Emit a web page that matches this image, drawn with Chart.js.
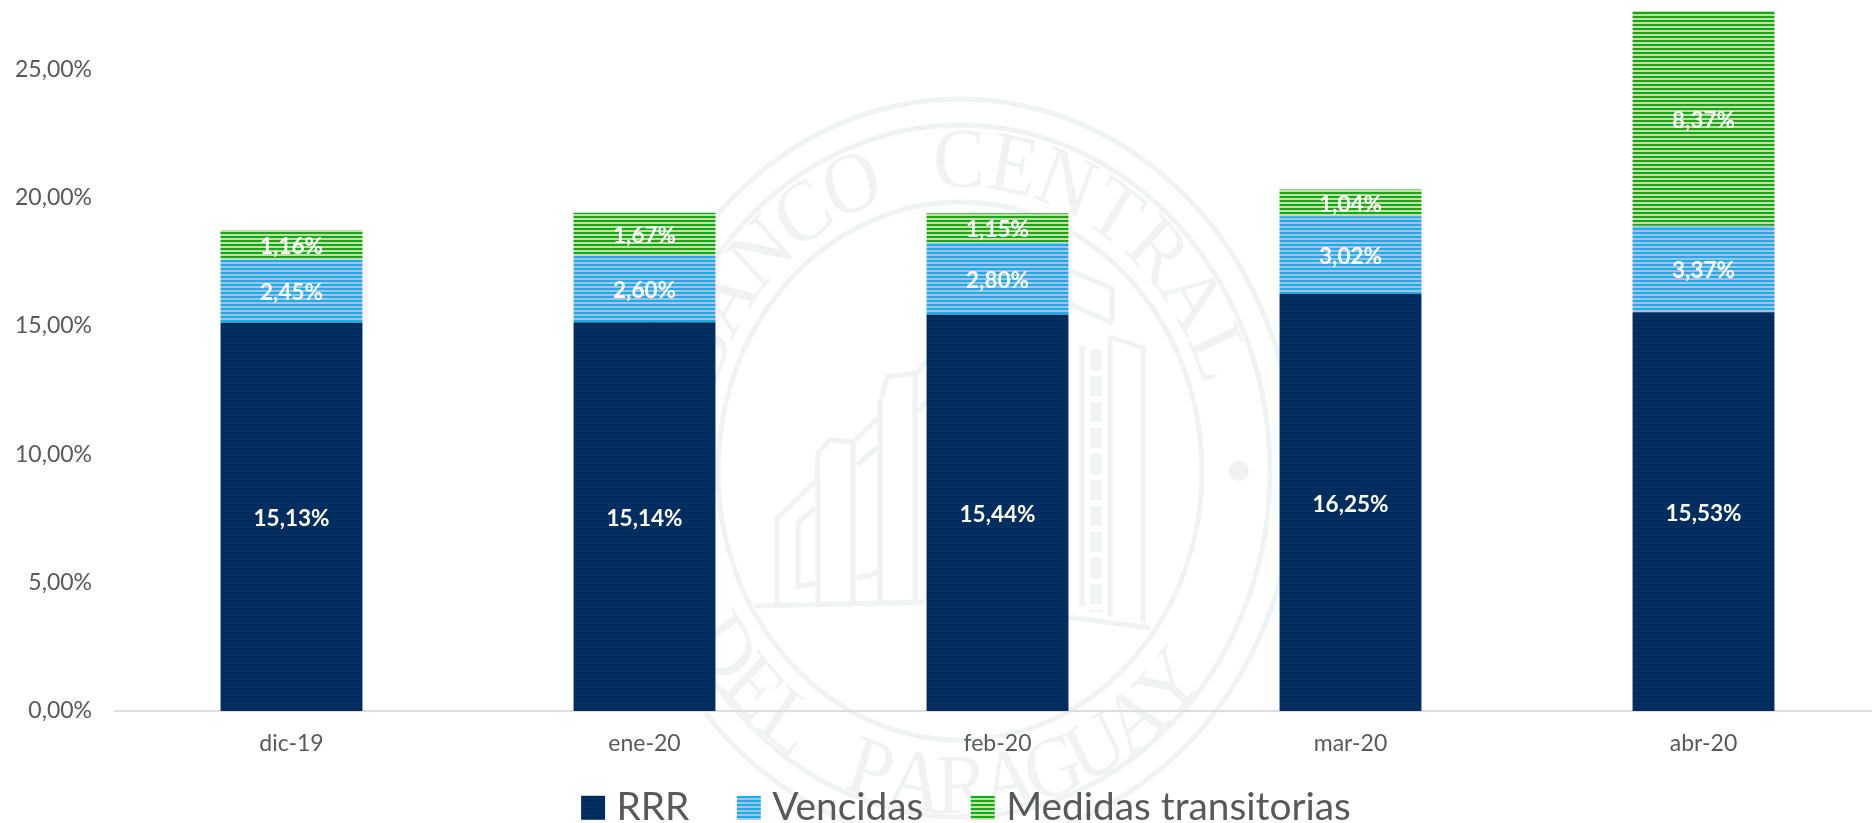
<!DOCTYPE html>
<html lang="es">
<head>
<meta charset="utf-8">
<title>Morosidad</title>
<style>
html,body{margin:0;padding:0;background:#fff;width:1872px;height:823px;overflow:hidden}
#wrap{position:absolute;left:0;top:0;width:1880px;height:823px}
</style>
<script src="https://cdn.jsdelivr.net/npm/chart.js@4/dist/chart.umd.min.js"></script>
</head>
<body>
<div id="wrap"><canvas id="c" width="1880" height="823"></canvas></div>
<script>
const categories = ["dic-19", "ene-20", "feb-20", "mar-20", "abr-20"];
const rrr = [15.13, 15.14, 15.44, 16.25, 15.53];
const vencidas = [2.45, 2.60, 2.80, 3.02, 3.37];
const medidas = [1.16, 1.67, 1.15, 1.04, 8.37];
const yTicks = [0, 5, 10, 15, 20, 25];
const seriesNames = ["RRR", "Vencidas", "Medidas transitorias"];

const FONT = "Lato";
const GREY = "#595959";
const SEAL = "#F0F3F2";

function stripes(a, b) {
  const p = document.createElement("canvas");
  p.width = 4; p.height = 4;
  const x = p.getContext("2d");
  x.fillStyle = a; x.fillRect(0, 0, 4, 2);
  x.fillStyle = b; x.fillRect(0, 2, 4, 2);
  return x.createPattern(p, "repeat");
}
const fmt = v => v.toFixed(2).replace(".", ",") + "%";

function poly(ctx, pts) {
  ctx.beginPath();
  pts.forEach((p, i) => i ? ctx.lineTo(p[0], p[1]) : ctx.moveTo(p[0], p[1]));
  ctx.stroke();
}
function arcText(ctx, text, r, startDeg, stepDeg, bottom) {
  [...text].forEach((ch, i) => {
    const deg = startDeg + i * stepDeg;
    ctx.save();
    ctx.rotate((bottom ? -deg : deg) * Math.PI / 180);
    if (bottom) { ctx.translate(0, r); } else { ctx.translate(0, -r); }
    ctx.fillText(ch, 0, 0);
    ctx.restore();
  });
}

const sealPlugin = {
  id: "seal",
  beforeDraw(chart) {
    const ctx = chart.ctx;
    ctx.save();
    ctx.strokeStyle = SEAL;
    ctx.fillStyle = SEAL;
    ctx.lineWidth = 5;
    ctx.lineJoin = "round";
    const cx = 960, cy = 471;
    [[335, 372], [310, 346], [242, 269]].forEach(([rx, ry]) => {
      ctx.beginPath();
      ctx.ellipse(cx, cy, rx, ry, 0, 0, Math.PI * 2);
      ctx.stroke();
    });
    ctx.beginPath();
    ctx.arc(1239, 471, 10, 0, Math.PI * 2);
    ctx.fill();

    ctx.save();
    ctx.translate(cx, cy);
    ctx.scale(0.9, 1);
    ctx.font = "86px 'Liberation Serif'";
    ctx.textAlign = "center";
    ctx.textBaseline = "alphabetic";
    arcText(ctx, "BANCO CENTRAL", 284, -68, 11.3, false);
    arcText(ctx, "DEL PARAGUAY", 342, -56, 9.4, true);
    ctx.restore();

    ctx.lineWidth = 5;
    [
      [[777,603],[777,518],[817,480],[818,453],[830,440],[853,442],[853,603]],
      [[818,480],[818,603]],
      [[798,522],[798,587],[815,583]],
      [[815,508],[798,522]],
      [[855,440],[878,418]],
      [[857,465],[878,447]],
      [[857,578],[878,573]],
      [[880,603],[880,403],[887,377],[915,373],[915,603]],
      [[917,373],[927,360]],
      [[918,412],[927,400]],
      [[755,606],[925,602]],
      [[1068,617],[1150,628]],
      [[1068,270],[1112,288],[1112,323]],
      [[1068,303],[1112,323]],
      [[1110,337],[1143,348],[1143,623]],
      [[1082,345],[1082,607]],
      [[1110,337],[1110,617]]
    ].forEach(p => poly(ctx, p));
    ctx.strokeStyle = "#F3F5F5";
    ctx.lineWidth = 12;
    ctx.setLineDash([20, 6]);
    poly(ctx, [[1096, 350], [1096, 612]]);
    ctx.setLineDash([]);
    ctx.restore();
  }
};

const labelPlugin = {
  id: "segmentLabels",
  afterDatasetsDraw(chart) {
    const ctx = chart.ctx;
    ctx.save();
    ctx.font = "bold 22.5px " + FONT;
    ctx.fillStyle = "#FFFFFF";
    ctx.textAlign = "center";
    ctx.textBaseline = "middle";
    chart.data.datasets.forEach((ds, i) => {
      chart.getDatasetMeta(i).data.forEach((el, j) => {
        const y = (el.y + el.base) / 2 + 2;
        ctx.fillText(fmt(ds.data[j]), el.x, y);
      });
    });
    ctx.restore();
  }
};

const legendPlacement = {
  id: "legendPlacement",
  afterLayout(chart) {
    const l = chart.legend;
    l.left += 30; l.right += 30;
    l.top = 733; l.bottom = 834;
  }
};

const navy = stripes("#002B5E", "#03305F");
const blue = stripes("#12B0EF", "#ABC1DA");
const green = stripes("#0BAE18", "#C9DBA6");

new Chart(document.getElementById("c"), {
  type: "bar",
  data: {
    labels: categories,
    datasets: [
      { label: seriesNames[0], data: rrr, backgroundColor: navy },
      { label: seriesNames[1], data: vencidas, backgroundColor: blue },
      { label: seriesNames[2], data: medidas, backgroundColor: green }
    ]
  },
  plugins: [sealPlugin, labelPlugin, legendPlacement],
  options: {
    responsive: false,
    animation: false,
    layout: { padding: { top: 5, left: 0, right: 0, bottom: 0 } },
    datasets: { bar: { categoryPercentage: 0.402, barPercentage: 1 } },
    scales: {
      x: {
        stacked: true,
        grid: { display: false, drawTicks: false },
        border: { display: true, color: "#DEDEDE", width: 2 },
        ticks: { color: GREY, font: { family: FONT, size: 23 }, padding: 19, maxRotation: 0, autoSkip: false },
        afterFit(s) { s.height = 62; }
      },
      y: {
        stacked: true,
        min: 0,
        max: 27.5,
        grid: { display: false, drawTicks: false },
        border: { display: false },
        afterBuildTicks(s) { s.ticks = yTicks.map(v => ({ value: v })); },
        ticks: {
          color: GREY, font: { family: FONT, size: 23 }, padding: 23,
          callback: v => fmt(v)
        },
        afterFit(s) { s.width = 115; s.paddingTop = 0; s.paddingBottom = 0; }
      }
    },
    plugins: {
      title: { display: false },
      tooltip: { enabled: false },
      legend: {
        display: true,
        position: "bottom",
        maxHeight: 50,
        labels: {
          color: GREY,
          font: { family: FONT, size: 38.8 },
          boxWidth: 8,
          boxHeight: 8,
          padding: 55.4,
          generateLabels(chart) {
            return chart.data.datasets.map((d, i) => ({
              text: d.label,
              fillStyle: d.backgroundColor,
              strokeStyle: d.backgroundColor,
              lineWidth: 16,
              fontColor: GREY,
              datasetIndex: i,
              hidden: false
            }));
          }
        }
      }
    }
  }
});
</script>
</body>
</html>
